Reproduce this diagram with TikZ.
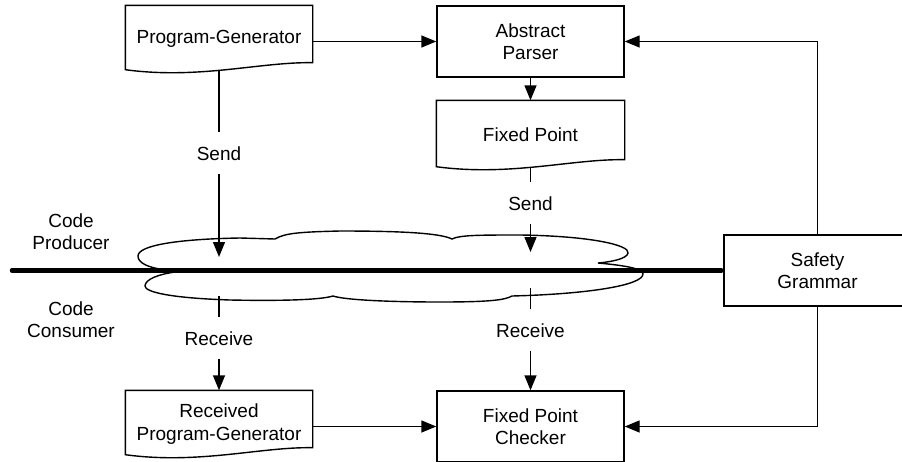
\documentclass[tikz,border=0pt]{standalone}
\usepackage{fontspec}
\setmainfont{Liberation Sans}
\usetikzlibrary{arrows.meta,calc}
\newcommand\docshape[1]{\draw (#1.north west) -- (#1.north east) -- ([yshift=10pt]#1.south east) .. controls ([xshift=-52pt,yshift=11pt]#1.south east) and ([xshift=74pt,yshift=-7pt]#1.south west) .. ([yshift=3pt]#1.south west) -- cycle;}
\begin{document}
\begin{tikzpicture}[x=1pt,y=-1pt,
  line width=1.4pt,
  every node/.style={font=\fontsize{19}{22.5}\selectfont, align=center},
  box/.style={draw, minimum width=187pt, minimum height=71pt, inner sep=0pt},
  docbox/.style={minimum width=186pt, minimum height=66pt, inner sep=0pt},
  lbl/.style={inner xsep=2pt, inner ysep=13pt, text height=14pt, text depth=0pt},
  arr/.style={-{Triangle[length=15pt,width=12pt]}},
  heavy/.style={line width=4.5pt, line cap=round}
]
\path[use as bounding box] (0,0) rectangle (902,461);
\clip (0,0) rectangle (902,461);

% cloud
\draw (173,271) .. controls (145,268) and (138,262) .. (138,256)
  .. controls (138,245) and (180,239) .. (240,238)
  -- (275,239)
  .. controls (285,233) and (300,232) .. (340,231)
  .. controls (400,231) and (440,233) .. (452,239)
  .. controls (460,235) and (480,235) .. (520,235)
  .. controls (590,236) and (630,245) .. (628,253)
  .. controls (627,259) and (610,262) .. (598,263)
  .. controls (620,265) and (643,268) .. (643,274)
  .. controls (643,285) and (590,294) .. (512,296)
  .. controls (505,300) and (490,302) .. (440,302)
  .. controls (390,302) and (345,300) .. (333,296)
  .. controls (320,300) and (280,301) .. (230,300)
  .. controls (170,298) and (145,292) .. (145,286)
  .. controls (145,279) and (160,274) .. (175,272);

% nodes
\node[docbox] (pg) at (219,39) {Program-Generator};
\docshape{pg}
\node[box] (ap) at (530.5,41.5) {Abstract\\Parser};
\node[docbox, minimum width=187pt, minimum height=68pt] (fp) at (530.5,135) {Fixed Point};
\docshape{fp}
\node[docbox] (rpg) at (219,424) {Received\\Program-Generator};
\docshape{rpg}
\node[box] (fpc) at (530.5,426.5) {Fixed Point\\Checker};
\node[box, fill=white] (sg) at (817.5,270.5) {Safety\\Grammar};

\node (prod) at (71,231.5) {Code\\Producer};
\node (cons) at (71,319.5) {Code\\Consumer};

% labels and coordinates
\coordinate (a1) at (219,257);
\coordinate (a2) at (530.5,252);
\coordinate (t1) at (219,296);
\coordinate (t2) at (530.5,288);
\coordinate (lineL) at (12,270.5);
\node[lbl] (send1) at (219,153) {Send};
\node[lbl] (send2) at (530.5,203) {Send};
\node[lbl] (recv1) at (219,338) {Receive};
\node[lbl] (recv2) at (530.5,330) {Receive};

% thick line
\draw[heavy] (lineL) -- ([xshift=-2pt]sg.west);

% connectors
\draw ([yshift=2pt]pg.south) -- (send1);
\draw[arr] (send1) -- (a1);
\draw ([yshift=2pt]fp.south) -- (send2);
\draw[arr] (send2) -- (a2);
\draw (t1) -- (recv1);
\draw[arr] (recv1) -- (rpg.north);
\draw (t2) -- (recv2);
\draw[arr] (recv2) -- (fpc.north);
\draw[arr] (pg.east |- ap.west) -- (ap.west);
\draw[arr] (ap) -- (fp);
\draw[arr] (sg.north) |- (ap.east);
\draw[arr] (sg.south) |- (fpc.east);
\draw[arr] (rpg.east |- fpc.west) -- (fpc.west);
\end{tikzpicture}
\end{document}
